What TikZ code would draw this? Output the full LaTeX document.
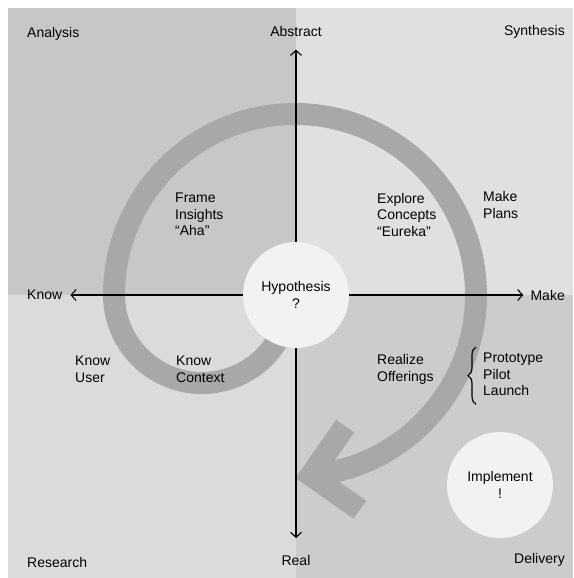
\documentclass[tikz,border=0pt]{standalone}
\usepackage{fontspec}
\setmainfont{Liberation Sans}
\usetikzlibrary{arrows.meta,decorations.pathreplacing}
\definecolor{tlgray}{gray}{0.78}
\definecolor{trgray}{gray}{0.88}
\definecolor{blgray}{gray}{0.86}
\definecolor{brgray}{gray}{0.80}
\definecolor{bandgray}{gray}{0.66}
\definecolor{discgray}{gray}{0.95}
\begin{document}
\begin{tikzpicture}[x=1pt, y=1pt,
  every node/.style={font=\fontsize{14}{16.7}\selectfont, inner sep=0pt, align=left},
  band/.style={draw=bandgray, line width=22pt},
  axis/.style={line width=1.1pt, -{Straight Barb[length=5pt,width=11pt]}},
  disc/.style={circle, fill=discgray, minimum size=106pt, align=center}]
\useasboundingbox (-296,-283) rectangle (277,295);
\fill[tlgray] (-288,0) rectangle (0,287);
\fill[trgray] (0,0) rectangle (277,287);
\fill[blgray] (-288,-283) rectangle (0,0);
\fill[brgray] (0,-283) rectangle (277,0);
\draw[band] (-94,0) ++(-25:88) arc[start angle=-25, end angle=-180, radius=88]
  arc[start angle=180, end angle=-85, radius=181] coordinate (tip);
\draw[band, line join=miter] (tip) ++(55:60) -- (tip) -- ++(-35:60);
\node[disc] (hyp) at (0,0) {Hypothesis\\?};
\node[disc] (impl) at (204,-190) {Implement\\!};
\node[anchor=north west] (analysis) at (-269,268) {Analysis};
\node[anchor=north] (abstract) at (0,269) {Abstract};
\node[anchor=north east] (synthesis) at (269,270) {Synthesis};
\node[anchor=west] (know) at (-269,0) {Know};
\node[anchor=east] (make) at (269,0) {Make};
\node[anchor=north west] (research) at (-269,-262) {Research};
\node[anchor=north] (real) at (0,-260) {Real};
\node[anchor=north east] (delivery) at (269,-258) {Delivery};
\node[anchor=north west] (frame) at (-121,102.3) {Frame\\Insights\\``Aha''};
\node[anchor=north west] (explore) at (81,102.3) {Explore\\Concepts\\``Eureka''};
\node[anchor=north west] (plans) at (187,104) {Make\\Plans};
\node[anchor=north west] (user) at (-221,-61) {Know\\User};
\node[anchor=north west] (context) at (-120,-61) {Know\\Context};
\node[anchor=north west] (realize) at (81,-59.5) {Realize\\Offerings};
\node[anchor=north west] (stages) at (187,-57.7) {Prototype\\Pilot\\Launch};
\draw[axis, shorten >=13pt] (hyp) -- (abstract);
\draw[axis, shorten >=17pt] (hyp) -- (real);
\draw[axis, shorten >=8pt] (hyp) -- (know);
\draw[axis, shorten >=7pt] (hyp) -- (make);
\draw[line width=1.2pt, decorate, decoration={brace, amplitude=8pt}]
  ([xshift=-7pt,yshift=-8pt]stages.south west) -- ([xshift=-7pt,yshift=5.7pt]stages.north west);
\end{tikzpicture}
\end{document}
